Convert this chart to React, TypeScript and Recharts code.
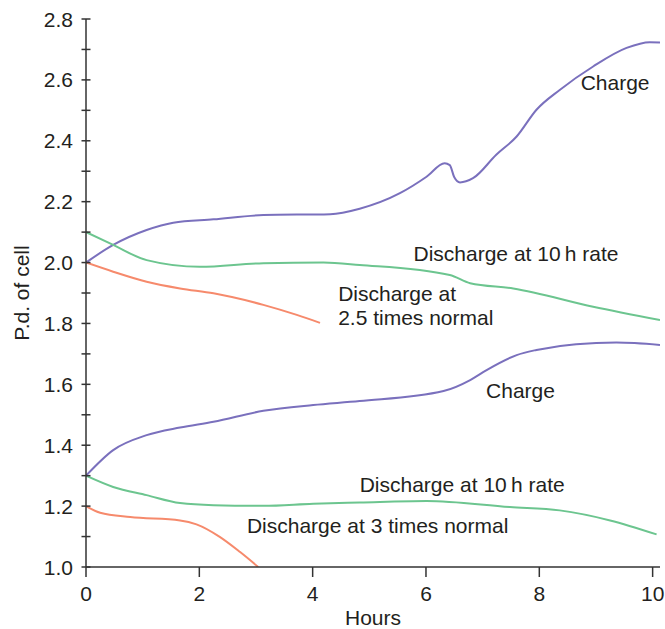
import { LineChart, Line, XAxis, YAxis, ReferenceDot, Label } from 'recharts'

// hours / cell p.d.
const chargeUpper = [
  { h: 0, v: 2.0 }, { h: 0.48, v: 2.058 }, { h: 1.07, v: 2.107 }, { h: 1.54, v: 2.131 },
  { h: 2.25, v: 2.142 }, { h: 3.13, v: 2.156 }, { h: 4.31, v: 2.159 }, { h: 4.83, v: 2.177 },
  { h: 5.54, v: 2.228 }, { h: 6.01, v: 2.282 }, { h: 6.33, v: 2.326 }, { h: 6.42, v: 2.32 },
  { h: 6.5, v: 2.28 }, { h: 6.6, v: 2.263 }, { h: 6.83, v: 2.277 }, { h: 7.24, v: 2.354 },
  { h: 7.6, v: 2.414 }, { h: 7.95, v: 2.502 }, { h: 8.36, v: 2.567 }, { h: 8.95, v: 2.644 },
  { h: 9.54, v: 2.705 }, { h: 9.95, v: 2.724 }, { h: 10.13, v: 2.723 },
]
const discharge10hUpper = [
  { h: 0, v: 2.1 }, { h: 0.48, v: 2.058 }, { h: 1.07, v: 2.008 }, { h: 2.01, v: 1.986 },
  { h: 3.13, v: 1.998 }, { h: 4.19, v: 2.0 }, { h: 4.83, v: 1.992 }, { h: 6.42, v: 1.959 },
  { h: 6.78, v: 1.932 }, { h: 7.54, v: 1.915 }, { h: 8.95, v: 1.855 }, { h: 10.13, v: 1.811 },
]
const discharge25x = [
  { h: 0, v: 2.0 }, { h: 0.48, v: 1.97 }, { h: 1.07, v: 1.937 }, { h: 1.66, v: 1.915 },
  { h: 2.25, v: 1.899 }, { h: 3.13, v: 1.861 }, { h: 3.72, v: 1.828 }, { h: 4.13, v: 1.802 },
]
const chargeLower = [
  { h: 0, v: 1.3 }, { h: 0.48, v: 1.384 }, { h: 1.07, v: 1.433 }, { h: 1.66, v: 1.458 },
  { h: 2.25, v: 1.477 }, { h: 3.13, v: 1.513 }, { h: 4.01, v: 1.532 }, { h: 4.83, v: 1.545 },
  { h: 6.31, v: 1.578 }, { h: 6.78, v: 1.614 }, { h: 7.07, v: 1.647 }, { h: 7.6, v: 1.696 },
  { h: 7.95, v: 1.713 }, { h: 8.65, v: 1.732 }, { h: 9.36, v: 1.737 }, { h: 10.13, v: 1.729 },
]
const discharge10hLower = [
  { h: 0, v: 1.3 }, { h: 0.48, v: 1.263 }, { h: 1.07, v: 1.236 }, { h: 1.66, v: 1.21 },
  { h: 2.25, v: 1.203 }, { h: 3.13, v: 1.201 }, { h: 4.01, v: 1.208 }, { h: 4.83, v: 1.212 },
  { h: 6.01, v: 1.217 }, { h: 7.48, v: 1.197 }, { h: 8.36, v: 1.186 }, { h: 9.25, v: 1.153 },
  { h: 10.07, v: 1.107 },
]
const discharge3x = [
  { h: 0, v: 1.2 }, { h: 0.25, v: 1.178 }, { h: 0.78, v: 1.164 }, { h: 1.66, v: 1.153 },
  { h: 1.95, v: 1.14 }, { h: 2.36, v: 1.099 }, { h: 2.72, v: 1.049 }, { h: 3.04, v: 1.0 },
]

const xTicks = [0, 2, 4, 6, 8, 10]
const yTicks = [1.0, 1.1, 1.2, 1.3, 1.4, 1.5, 1.6, 1.7, 1.8, 1.9, 2.0, 2.1, 2.2, 2.3, 2.4, 2.5, 2.6, 2.7, 2.8]

const annotations = [
  { h: 8.73, v: 2.59, text: 'Charge' },
  { h: 5.78, v: 2.028, text: 'Discharge at 10\u2009h rate' },
  { h: 4.45, v: 1.897, text: 'Discharge at' },
  { h: 4.45, v: 1.821, text: '2.5 times normal' },
  { h: 7.06, v: 1.581, text: 'Charge' },
  { h: 4.83, v: 1.272, text: 'Discharge at 10\u2009h rate' },
  { h: 2.84, v: 1.135, text: 'Discharge at 3 times normal' },
]

const PURPLE = '#7a70bd'
const GREEN = '#6cc58f'
const ORANGE = '#f68a6c'
const INK = '#231f20'
const AXIS = '#333'
const FONT = '"Liberation Sans", Arial, Helvetica, sans-serif'

const YTick = (props: any) => {
  const { x, y, payload } = props
  const even = Math.round(payload.value * 10) % 2 === 0
  return (
    <g>
      <line x1={x - 4.5} x2={x + 4.5} y1={y} y2={y} stroke={AXIS} strokeWidth={1.5} />
      {even && (
        <text x={x - 13} y={y} textAnchor="end" dominantBaseline="central" fill={INK} fontSize={21} fontFamily={FONT}>
          {payload.value.toFixed(1)}
        </text>
      )}
    </g>
  )
}

export default function App() {
  return (
    <div style={{ width: 665, height: 629, background: '#fff', fontFamily: FONT }}>
      <style>{`body { margin: 0; }`}</style>
      <LineChart width={665} height={629} margin={{ top: 19, right: 5, bottom: 0, left: 0 }}>
        <XAxis
          type="number"
          dataKey="h"
          domain={[0, 10.13]}
          ticks={xTicks}
          allowDataOverflow
          height={62}
          stroke={AXIS}
          strokeWidth={1.5}
          tickSize={10}
          tickMargin={9}
          tick={{ fill: INK, fontSize: 21, fontFamily: FONT }}
        >
          <Label value="Hours" position="insideBottom" offset={4} fill={INK} fontSize={21} fontFamily={FONT} />
        </XAxis>
        <YAxis
          type="number"
          dataKey="v"
          domain={[1.0, 2.8]}
          ticks={yTicks}
          interval={0}
          allowDataOverflow
          width={86}
          stroke={AXIS}
          strokeWidth={1.5}
          tickLine={false}
          tickSize={0}
          tickMargin={0}
          tick={<YTick />}
          label={{
            content: (p: any) => {
              const vb = p.viewBox
              const cy = vb.y + vb.height / 2
              return (
                <text
                  transform={`translate(21, ${cy}) rotate(-90)`}
                  textAnchor="middle"
                  dominantBaseline="central"
                  fill={INK}
                  fontSize={21}
                  fontFamily={FONT}
                >
                  P.d. of cell
                </text>
              )
            },
          }}
        />
        <Line data={chargeUpper} dataKey="v" type="monotone" stroke={PURPLE} strokeWidth={2} dot={false} isAnimationActive={false} />
        <Line data={discharge10hUpper} dataKey="v" type="monotone" stroke={GREEN} strokeWidth={2} dot={false} isAnimationActive={false} />
        <Line data={discharge25x} dataKey="v" type="monotone" stroke={ORANGE} strokeWidth={2} dot={false} isAnimationActive={false} />
        <Line data={chargeLower} dataKey="v" type="monotone" stroke={PURPLE} strokeWidth={2} dot={false} isAnimationActive={false} />
        <Line data={discharge10hLower} dataKey="v" type="monotone" stroke={GREEN} strokeWidth={2} dot={false} isAnimationActive={false} />
        <Line data={discharge3x} dataKey="v" type="monotone" stroke={ORANGE} strokeWidth={2} dot={false} isAnimationActive={false} />
        {annotations.map((a, i) => (
          <ReferenceDot key={i} x={a.h} y={a.v} r={0} fill="none" stroke="none">
            <Label value={a.text} position="right" offset={0} fill={INK} fontSize={21} fontFamily={FONT} />
          </ReferenceDot>
        ))}
      </LineChart>
    </div>
  )
}
